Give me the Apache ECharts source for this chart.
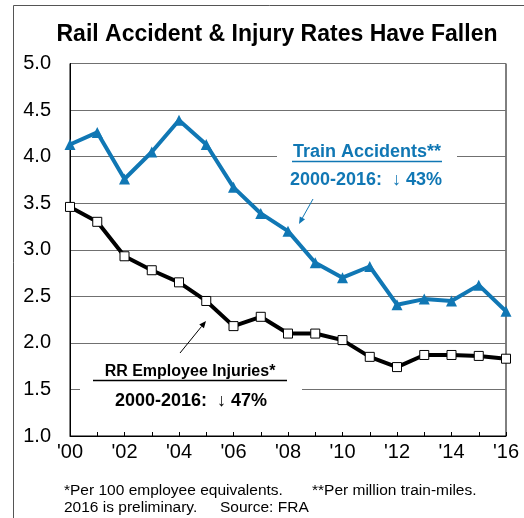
<!DOCTYPE html>
<html>
<head>
<meta charset="utf-8">
<script src="https://cdn.jsdelivr.net/npm/echarts@6/dist/echarts.min.js"></script>
<style>
  html, body { margin: 0; padding: 0; background: #fff; }
  #chart { width: 524px; height: 518px; }
</style>
</head>
<body>
<div id="chart"></div>
<script>
// --- DATA ---
const years = ["'00", "'01", "'02", "'03", "'04", "'05", "'06", "'07", "'08",
               "'09", "'10", "'11", "'12", "'13", "'14", "'15", "'16"];
const trainAccidents = [4.13, 4.26, 3.76, 4.05, 4.39, 4.13, 3.67, 3.39, 3.20,
                        2.86, 2.70, 2.82, 2.41, 2.47, 2.45, 2.62, 2.34];
const employeeInjuries = [3.46, 3.30, 2.93, 2.78, 2.65, 2.45, 2.18, 2.28, 2.10,
                          2.10, 2.03, 1.85, 1.74, 1.87, 1.87, 1.86, 1.83];

const BLUE = '#1077b4';
const FONT = 'Liberation Sans, Arial, sans-serif';

// arrow = line + small filled head
const arrow = (x1, y1, x2, y2, color) => {
    const a = Math.atan2(y2 - y1, x2 - x1);
    const len = 7, half = 3;
    const bx = x2 - len * Math.cos(a), by = y2 - len * Math.sin(a);
    return [
        { type: 'line', z: 100, shape: { x1, y1, x2: bx, y2: by }, style: { stroke: color, lineWidth: 1 } },
        { type: 'polygon', z: 100, shape: { points: [
            [x2, y2],
            [bx + half * Math.sin(a), by - half * Math.cos(a)],
            [bx - half * Math.sin(a), by + half * Math.cos(a)]
        ] }, style: { fill: color } }
    ];
};

const txt = (text, x, y, size, weight, color) => ({
    type: 'text', z: 101,
    style: { text, x, y, font: `${weight} ${size}px ${FONT}`, fill: color,
             textAlign: 'center', textVerticalAlign: 'middle' }
});

const note = (text, x, y) => ({
    type: 'text', z: 101,
    style: { text, x, y, font: `15.5px ${FONT}`, fill: '#000', textVerticalAlign: 'middle' }
});

const chart = echarts.init(document.getElementById('chart'));

chart.setOption({
    backgroundColor: '#fff',
    animation: false,
    title: {
        text: 'Rail Accident & Injury Rates Have Fallen',
        left: 272, top: 18, textAlign: 'center',
        textStyle: { fontFamily: FONT, fontSize: 23, fontWeight: 'bold', color: '#000' }
    },
    grid: { left: 70, right: 18, top: 63.5, bottom: 82, show: true, borderColor: '#000', borderWidth: 1 },
    xAxis: {
        type: 'category', data: years, boundaryGap: false,
        axisLine: { lineStyle: { color: '#000', width: 1 } },
        axisTick: { show: true, inside: true, length: 4, interval: 0, lineStyle: { color: '#000' } },
        axisLabel: { interval: 1, color: '#000', fontFamily: FONT, fontSize: 20, margin: 6 },
        splitLine: { show: false }
    },
    yAxis: {
        type: 'value', min: 1, max: 5, interval: 0.5,
        axisLine: { show: true, lineStyle: { color: '#000', width: 1 } },
        axisTick: { show: false },
        axisLabel: { color: '#000', fontFamily: FONT, fontSize: 20, margin: 19,
                     formatter: v => v.toFixed(1) },
        splitLine: { lineStyle: { color: '#707070', width: 1 } }
    },
    series: [
        {
            name: 'Train Accidents', type: 'line', data: trainAccidents,
            symbol: 'triangle', symbolSize: 11,
            lineStyle: { color: BLUE, width: 4 },
            itemStyle: { color: BLUE, borderWidth: 0 }
        },
        {
            name: 'RR Employee Injuries', type: 'line', data: employeeInjuries,
            symbol: 'rect', symbolSize: 9,
            lineStyle: { color: '#000', width: 4 },
            itemStyle: { color: '#fff', borderColor: '#000', borderWidth: 1 }
        }
    ],
    graphic: [
        // outer frame
        { type: 'rect', z: 0, shape: { x: 13.5, y: 5.5, width: 600, height: 600 },
          style: { fill: null, stroke: '#555', lineWidth: 1 } },
        // label boxes
        { type: 'rect', z: 99, shape: { x: 277, y: 141, width: 180, height: 50 }, style: { fill: '#fff' } },
        { type: 'rect', z: 99, shape: { x: 80, y: 361, width: 222, height: 52 }, style: { fill: '#fff' } },
        txt('Train Accidents**', 367, 152, 18, 'bold', BLUE),
        { type: 'line', z: 101, shape: { x1: 292, y1: 161.5, x2: 442, y2: 161.5 }, style: { stroke: BLUE, lineWidth: 1.5 } },
        txt('2000-2016:  \u2193 43%', 366, 180, 18, 'bold', BLUE),
        txt('RR Employee Injuries*', 190, 372, 16, 'bold', '#000'),
        { type: 'line', z: 101, shape: { x1: 93, y1: 380.5, x2: 287, y2: 380.5 }, style: { stroke: '#000', lineWidth: 1.5 } },
        txt('2000-2016:  \u2193 47%', 191, 401, 18, 'bold', '#000'),
        ...arrow(313, 199, 299, 224, BLUE),
        ...arrow(180, 353, 206, 321, '#000'),
        // footnotes
        note('*Per 100 employee equivalents.', 64, 491),
        note('**Per million train-miles.', 312, 491),
        note('2016 is preliminary.', 64, 508),
        note('Source: FRA', 220, 508)
    ]
});
</script>
</body>
</html>
